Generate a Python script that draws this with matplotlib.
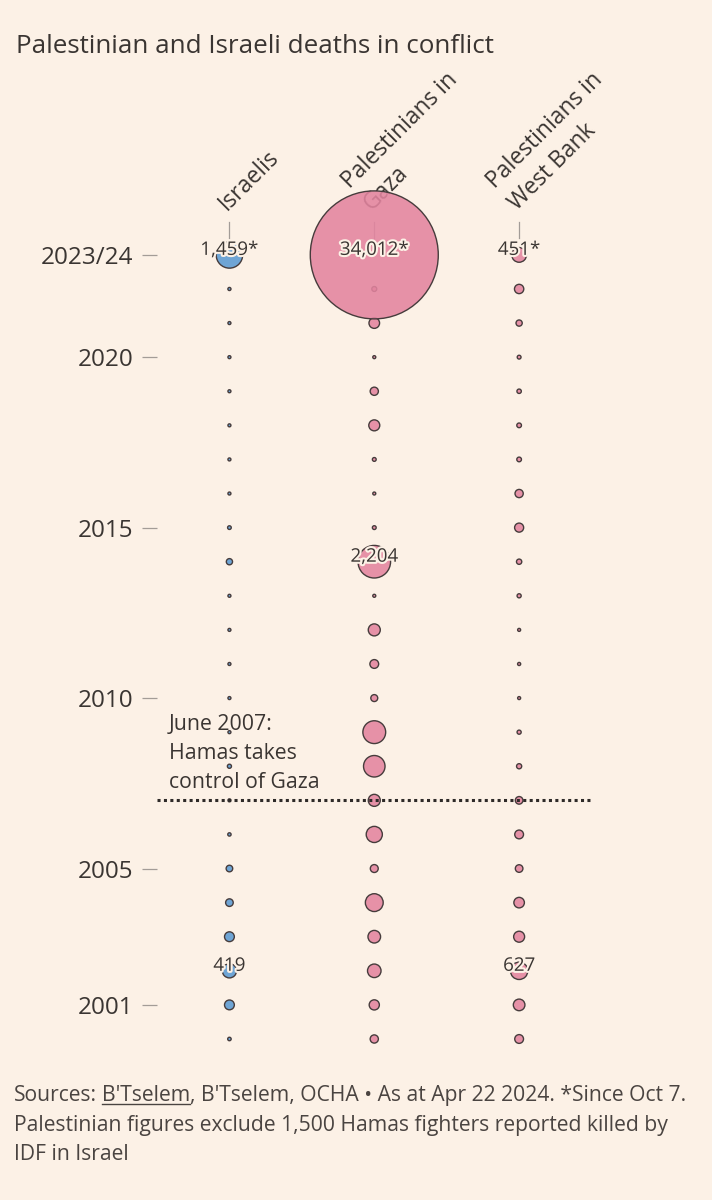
import numpy as np
import matplotlib
matplotlib.use('Agg')
import matplotlib.pyplot as plt
import matplotlib.patheffects as pe
from matplotlib.colors import to_rgba
from matplotlib.transforms import offset_copy
from matplotlib.lines import Line2D

plt.rcParams['font.family'] = ['Open Sans', 'DejaVu Sans']

# data (2023 row = since Oct 7 2023, to Apr 22 2024)
years = list(range(2000, 2024))
tick_years = [2001, 2005, 2010, 2015, 2020, 2023]
tick_labels = ['2001', '2005', '2010', '2015', '2020', '2023/24']
groups = ['Israelis', 'Palestinians in\nGaza', 'Palestinians in\nWest Bank']

israelis = [25, 200, 419, 200, 120, 90, 23, 13, 35, 9, 8, 11, 7, 6, 80, 28,
            15, 18, 14, 10, 3, 13, 20, 1459]
gaza = [140, 215, 380, 330, 660, 130, 540, 300, 960, 1080, 100, 160, 300, 10,
        2204, 30, 10, 30, 250, 140, 6, 234, 50, 34012]
west_bank = [160, 280, 627, 250, 230, 120, 160, 120, 55, 35, 15, 20, 12, 35,
             58, 170, 140, 45, 45, 40, 30, 80, 180, 451]

# which circles get a number printed on them: (column, year)
labelled = [(0, 2002), (2, 2002), (1, 2014), (0, 2023), (1, 2023), (2, 2023)]

bg = '#fcf1e6'
ink = '#3a3532'
edge = '#463c3c'
grey = '#a39c97'
colours = ['#5b9bd3', '#e3849f', '#e3849f']

fig = plt.figure(figsize=(7.12, 12), dpi=100, facecolor=bg)
ax = fig.add_axes([157 / 712, (1200 - 1065) / 1200, (593 - 157) / 712, (1065 - 170) / 1200])
ax.set_facecolor('none')
ax.set_xlim(-0.5, 2.51)
ax.set_ylim(1999.237, 2025.49)
for s in ax.spines.values():
    s.set_visible(False)
ax.set_xticks([])
ax.set_yticks(tick_years, tick_labels)
ax.tick_params(axis='y', length=10.5, width=0.9, color=grey, pad=6.5,
               labelsize=17.5, labelcolor=ink)

series = [israelis, gaza, west_bank]
max_r = 64  # pixel radius of the biggest circle


def size_of(v):
    r = max_r * np.sqrt(np.array(v, dtype=float) / max(gaza))
    r = np.maximum(r, 1.5)
    return (2 * r * 72 / fig.dpi) ** 2


for i, vals in enumerate(series):
    ax.scatter([i] * len(years), years, s=size_of(vals),
               facecolor=to_rgba(colours[i], 0.88), edgecolor=edge,
               linewidth=1.0, zorder=3, clip_on=False)
    # column header, slanted
    ax.text(i, 2023, groups[i], rotation=45, rotation_mode='anchor',
            ha='left', va='bottom', fontsize=16.5, color=ink, linespacing=1.4,
            transform=offset_copy(ax.transData, fig=fig, x=2, y=40, units='dots'),
            zorder=1)
    ax.plot([i, i], [2023.5, 2023.97], color=grey, lw=0.9, zorder=1)

halo = [pe.withStroke(linewidth=3, foreground=bg)]
for col, yr in labelled:
    v = series[col][years.index(yr)]
    txt = f'{v:,}' + ('*' if yr == 2023 else '')
    ax.text(col, yr, txt, ha='center', va='baseline', fontsize=13.5, color=ink,
            path_effects=halo, zorder=5)

# Hamas takeover of Gaza
ax.axhline(2007, color='#2e2a28', lw=2.2, linestyle=(0, (1, 1.1)), zorder=4)
ax.text(-0.417, 2007.36, 'June 2007:\nHamas takes\ncontrol of Gaza', ha='left',
        va='baseline', fontsize=15.3, color=ink, linespacing=1.5, zorder=2)

fig.text(16 / 712, (1200 - 53) / 1200, 'Palestinian and Israeli deaths in conflict',
         fontsize=18.7, color=ink, va='baseline')

# footer, first source underlined
foot_kw = dict(fontsize=15.2, color='#4a4441', va='baseline')
y1 = (1200 - 1101) / 1200
t1 = fig.text(14 / 712, y1, 'Sources:', **foot_kw)
rend = fig.canvas.get_renderer()
b1 = t1.get_window_extent(rend)
x2 = b1.x1 + 5
t2 = fig.text(x2 / 712, y1, "B'Tselem", **foot_kw)
b2 = t2.get_window_extent(rend)
fig.add_artist(Line2D([b2.x0 / 712, b2.x1 / 712], [y1 - 3 / 1200, y1 - 3 / 1200],
                      transform=fig.transFigure, color='#4a4441', lw=1))
fig.text(b2.x1 / 712, y1, ", B'Tselem, OCHA \u2022 As at Apr 22 2024. *Since Oct 7.", **foot_kw)
fig.text(14 / 712, (1200 - 1131) / 1200,
         'Palestinian figures exclude 1,500 Hamas fighters reported killed by', **foot_kw)
fig.text(14 / 712, (1200 - 1160) / 1200, 'IDF in Israel', **foot_kw)

fig.savefig('out.png', dpi=100, facecolor=bg)
